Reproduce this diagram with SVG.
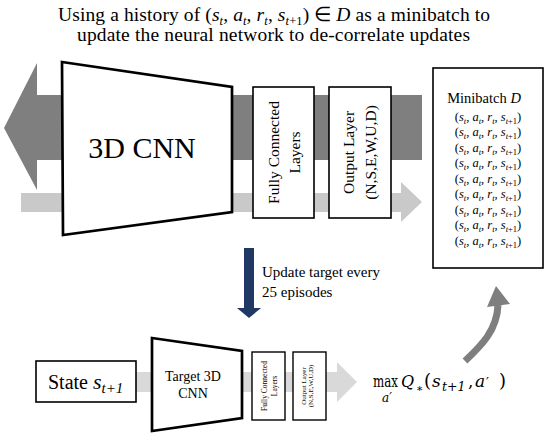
<svg xmlns="http://www.w3.org/2000/svg" width="550" height="436" viewBox="0 0 550 436">
<style>
text{font-family:"Liberation Serif","Times New Roman",serif;fill:#000}
.i{font-style:italic}
.box{fill:#fff;stroke:#000;stroke-width:1.6}
.trap{fill:#fff;stroke:#000;stroke-width:2.7;stroke-linejoin:miter}
.sbox{fill:#fff;stroke:#000;stroke-width:1.4}
.math{font-family:"DejaVu Serif",serif}
.tup{font-size:12.5px;text-anchor:middle}
.sub{font-size:8.5px}
.rot{text-anchor:middle}
</style>
<rect width="550" height="436" fill="#fff"/>
<g id="connectors">
 <polygon id="dark-arrow" points="4,128 37,63 37,95 422,95 422,160 37,160 37,190" fill="#7f7f7f"/>
 <polygon id="light-arrow-top" points="21,193 401,193 401,182 422,202 401,222 401,212 21,212" fill="#c9c9c9"/>
 <polygon id="light-arrow-bottom" points="136,372 337,372 337,362 357,382 337,402 337,392 136,392" fill="#d9d9d9"/>
 <g id="update-arrow" fill="#203864"><rect x="244" y="248" width="10" height="61"/><polygon points="237,308 261,308 249,318"/></g>
 <g id="curve-arrow"><path d="M465,361 C482,345 497,330 498,305" fill="none" stroke="#7f7f7f" stroke-width="7"/><polygon points="487,307 510,304 496,286" fill="#7f7f7f"/></g>
</g>
<g id="title">
 <text x="58" y="21" font-size="19.5" textLength="432" lengthAdjust="spacing">Using a history of (<tspan class="i">s</tspan><tspan class="i" font-size="12.5" dy="4">t</tspan><tspan dy="-4">, </tspan><tspan class="i">a</tspan><tspan class="i" font-size="12.5" dy="4">t</tspan><tspan dy="-4">, </tspan><tspan class="i">r</tspan><tspan class="i" font-size="12.5" dy="4">t</tspan><tspan dy="-4">, </tspan><tspan class="i">s</tspan><tspan class="i" font-size="12.5" dy="4">t</tspan><tspan font-size="12.5" dy="0">+1</tspan><tspan dy="-4">) ∈ </tspan><tspan class="i">D</tspan> as a minibatch to</text>
 <text x="77" y="41" font-size="19.5" textLength="393" lengthAdjust="spacing">update the neural network to de-correlate updates</text>
</g>
<g id="cnn">
 <polygon class="trap" points="62,62 232,87 232,212 63,235"/>
 <text x="142" y="158" font-size="30" text-anchor="middle">3D CNN</text>
</g>
<g id="fc-layers">
 <rect class="box" x="253" y="87" width="61" height="131"/>
 <g transform="translate(283.5,152.5) rotate(-90)" font-size="15.5">
  <text class="rot" y="-4.5">Fully Connected</text>
  <text class="rot" y="16.5">Layers</text>
 </g>
</g>
<g id="output-layer">
 <rect class="box" x="329" y="87" width="62" height="131"/>
 <g transform="translate(360,152.5) rotate(-90)" font-size="15.5">
  <text class="rot" y="-6.5">Output Layer</text>
  <text class="rot" y="15.5">(N,S,E,W,U,D)</text>
 </g>
</g>
<g id="minibatch">
 <rect class="box" x="433" y="68" width="110" height="200"/>
 <text x="484" y="103" font-size="14.5" text-anchor="middle">Minibatch <tspan class="i">D</tspan></text>
 <text class="tup" x="488" y="120.5">(<tspan class="i">s</tspan><tspan class="i sub" dy="3">t</tspan><tspan dy="-3">, </tspan><tspan class="i">a</tspan><tspan class="i sub" dy="3">t</tspan><tspan dy="-3">, </tspan><tspan class="i">r</tspan><tspan class="i sub" dy="3">t</tspan><tspan dy="-3">, </tspan><tspan class="i">s</tspan><tspan class="i sub" dy="3">t</tspan><tspan class="sub">+1</tspan><tspan dy="-3">)</tspan></text>
 <text class="tup" x="488" y="136">(<tspan class="i">s</tspan><tspan class="i sub" dy="3">t</tspan><tspan dy="-3">, </tspan><tspan class="i">a</tspan><tspan class="i sub" dy="3">t</tspan><tspan dy="-3">, </tspan><tspan class="i">r</tspan><tspan class="i sub" dy="3">t</tspan><tspan dy="-3">, </tspan><tspan class="i">s</tspan><tspan class="i sub" dy="3">t</tspan><tspan class="sub">+1</tspan><tspan dy="-3">)</tspan></text>
 <text class="tup" x="488" y="151.5">(<tspan class="i">s</tspan><tspan class="i sub" dy="3">t</tspan><tspan dy="-3">, </tspan><tspan class="i">a</tspan><tspan class="i sub" dy="3">t</tspan><tspan dy="-3">, </tspan><tspan class="i">r</tspan><tspan class="i sub" dy="3">t</tspan><tspan dy="-3">, </tspan><tspan class="i">s</tspan><tspan class="i sub" dy="3">t</tspan><tspan class="sub">+1</tspan><tspan dy="-3">)</tspan></text>
 <text class="tup" x="488" y="167">(<tspan class="i">s</tspan><tspan class="i sub" dy="3">t</tspan><tspan dy="-3">, </tspan><tspan class="i">a</tspan><tspan class="i sub" dy="3">t</tspan><tspan dy="-3">, </tspan><tspan class="i">r</tspan><tspan class="i sub" dy="3">t</tspan><tspan dy="-3">, </tspan><tspan class="i">s</tspan><tspan class="i sub" dy="3">t</tspan><tspan class="sub">+1</tspan><tspan dy="-3">)</tspan></text>
 <text class="tup" x="488" y="182.5">(<tspan class="i">s</tspan><tspan class="i sub" dy="3">t</tspan><tspan dy="-3">, </tspan><tspan class="i">a</tspan><tspan class="i sub" dy="3">t</tspan><tspan dy="-3">, </tspan><tspan class="i">r</tspan><tspan class="i sub" dy="3">t</tspan><tspan dy="-3">, </tspan><tspan class="i">s</tspan><tspan class="i sub" dy="3">t</tspan><tspan class="sub">+1</tspan><tspan dy="-3">)</tspan></text>
 <text class="tup" x="488" y="198">(<tspan class="i">s</tspan><tspan class="i sub" dy="3">t</tspan><tspan dy="-3">, </tspan><tspan class="i">a</tspan><tspan class="i sub" dy="3">t</tspan><tspan dy="-3">, </tspan><tspan class="i">r</tspan><tspan class="i sub" dy="3">t</tspan><tspan dy="-3">, </tspan><tspan class="i">s</tspan><tspan class="i sub" dy="3">t</tspan><tspan class="sub">+1</tspan><tspan dy="-3">)</tspan></text>
 <text class="tup" x="488" y="213.5">(<tspan class="i">s</tspan><tspan class="i sub" dy="3">t</tspan><tspan dy="-3">, </tspan><tspan class="i">a</tspan><tspan class="i sub" dy="3">t</tspan><tspan dy="-3">, </tspan><tspan class="i">r</tspan><tspan class="i sub" dy="3">t</tspan><tspan dy="-3">, </tspan><tspan class="i">s</tspan><tspan class="i sub" dy="3">t</tspan><tspan class="sub">+1</tspan><tspan dy="-3">)</tspan></text>
 <text class="tup" x="488" y="229">(<tspan class="i">s</tspan><tspan class="i sub" dy="3">t</tspan><tspan dy="-3">, </tspan><tspan class="i">a</tspan><tspan class="i sub" dy="3">t</tspan><tspan dy="-3">, </tspan><tspan class="i">r</tspan><tspan class="i sub" dy="3">t</tspan><tspan dy="-3">, </tspan><tspan class="i">s</tspan><tspan class="i sub" dy="3">t</tspan><tspan class="sub">+1</tspan><tspan dy="-3">)</tspan></text>
 <text class="tup" x="488" y="244.5">(<tspan class="i">s</tspan><tspan class="i sub" dy="3">t</tspan><tspan dy="-3">, </tspan><tspan class="i">a</tspan><tspan class="i sub" dy="3">t</tspan><tspan dy="-3">, </tspan><tspan class="i">r</tspan><tspan class="i sub" dy="3">t</tspan><tspan dy="-3">, </tspan><tspan class="i">s</tspan><tspan class="i sub" dy="3">t</tspan><tspan class="sub">+1</tspan><tspan dy="-3">)</tspan></text>
</g>
<g id="update-label">
 <text x="262" y="277" font-size="15">Update target every</text>
 <text x="262" y="297" font-size="15">25 episodes</text>
</g>
<g id="state">
 <rect class="box" x="36" y="361" width="100" height="41"/>
 <text x="48" y="389" font-size="20">State <tspan class="i" font-size="22">s</tspan><tspan class="i" font-size="15" dy="4">t+1</tspan></text>
</g>
<g id="target-cnn">
 <polygon class="trap" points="152,338 242,351 242,418 152,431"/>
 <text x="193" y="381" font-size="14" text-anchor="middle">Target 3D</text>
 <text x="193" y="397.5" font-size="14" text-anchor="middle">CNN</text>
</g>
<g id="target-fc-layers">
 <rect class="sbox" x="252" y="352" width="33" height="68"/>
 <g transform="translate(268.5,386) rotate(-90)" font-size="7.5">
  <text class="rot" y="-2">Fully Connected</text>
  <text class="rot" y="8">Layers</text>
 </g>
</g>
<g id="target-output-layer">
 <rect class="sbox" x="293" y="352" width="33" height="68"/>
 <g transform="translate(309.5,386) rotate(-90)" font-size="7">
  <text class="rot" y="-3.5">Output Layer</text>
  <text class="rot" y="3.5">(N,S,E,W,U,D)</text>
 </g>
</g>
<g id="formula" class="math">
 <text class="math" x="373" y="387" font-size="17.5" textLength="25" lengthAdjust="spacingAndGlyphs">max</text>
 <text class="math i" x="382" y="402" font-size="12">a′</text>
 <text class="math i" x="401" y="387" font-size="16">Q</text>
 <text class="math" x="416" y="392" font-size="11">∗</text>
 <text class="math" x="424" y="387" font-size="18">(</text>
 <text class="math i" x="432" y="387" font-size="17">s</text>
 <text class="math i" x="442" y="391" font-size="12.5">t+1</text>
 <text class="math" x="468" y="387" font-size="17">,</text>
 <text class="math i" x="475" y="387" font-size="17">a</text>
 <text class="math" x="486" y="387" font-size="13">′</text>
 <text class="math" x="499" y="387" font-size="18">)</text>
</g>
</svg>
